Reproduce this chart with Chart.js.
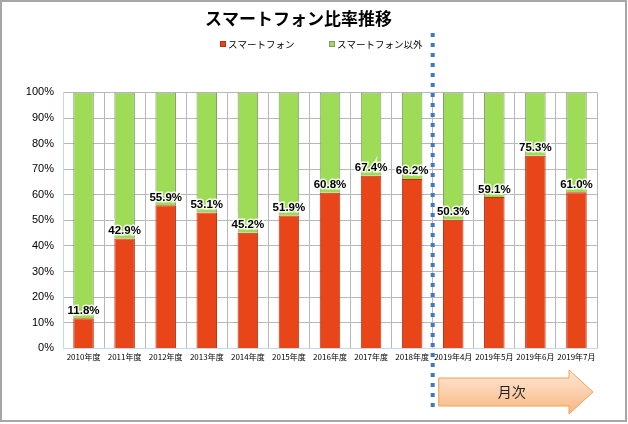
<!DOCTYPE html>
<html>
<head>
<meta charset="utf-8">
<script src="https://cdn.jsdelivr.net/npm/chart.js@4/dist/chart.umd.min.js"></script>
<style>
  html,body{margin:0;padding:0;background:#fff}
  #wrap{width:628px;height:424px}
</style>
</head>
<body>
<div id="wrap"><canvas id="chart" width="628" height="424"></canvas></div>
<script>
  const categories = ["2010年度","2011年度","2012年度","2013年度","2014年度","2015年度","2016年度","2017年度","2018年度","2019年4月","2019年5月","2019年6月","2019年7月"];
  const smartphone = [11.8, 42.9, 55.9, 53.1, 45.2, 51.9, 60.8, 67.4, 66.2, 50.3, 59.1, 75.3, 61.0];
  const others     = [88.2, 57.1, 44.1, 46.9, 54.8, 48.1, 39.2, 32.6, 33.8, 49.7, 40.9, 24.7, 39.0];
  const yTicks = [0,10,20,30,40,50,60,70,80,90,100];
  const splitAfter = 8; // index of last 年度 column
  const FONT = "'Liberation Sans', Arial, sans-serif";
  const JP = "'Noto Sans CJK JP', sans-serif";

  // legend, value labels, dashed divider, 月次 arrow, frame
  const decor = {
    id:"decor",
    afterDatasetsDraw(chart){
      const ctx = chart.ctx;
      const meta = chart.getDatasetMeta(0);
      ctx.save();
      ctx.font = "bold 11.5px " + FONT;
      ctx.textAlign = "center";
      ctx.textBaseline = "bottom";
      meta.data.forEach((bar,i)=>{
        const t = smartphone[i].toFixed(1) + "%";
        ctx.lineWidth = 3; ctx.strokeStyle = "rgba(255,255,255,0.85)";
        ctx.strokeText(t, bar.x, bar.y - 2);
        ctx.fillStyle = "#000";
        ctx.fillText(t, bar.x, bar.y - 2);
      });
      ctx.restore();
    },
    afterDraw(chart){
      const ctx = chart.ctx;
      const x = chart.scales.x;
      ctx.save();
      // legend
      const legX = [220, 329];
      ctx.font = "9.5px " + JP;
      ctx.textBaseline = "middle"; ctx.textAlign = "left";
      chart.data.datasets.forEach((ds,i)=>{
        ctx.fillStyle = ds.backgroundColor; ctx.strokeStyle = ds.borderColor; ctx.lineWidth = 1;
        ctx.fillRect(legX[i], 41, 6, 6); ctx.strokeRect(legX[i]+0.5, 41.5, 5, 5);
        ctx.fillStyle = "#000";
        ctx.fillText(ds.label, legX[i] + 8, 44);
      });
      // divider
      const xs = (x.getPixelForValue(splitAfter) + x.getPixelForValue(splitAfter+1))/2;
      ctx.strokeStyle = "#3f78c4";
      ctx.lineWidth = 4;
      ctx.setLineDash([4,6]);
      ctx.beginPath(); ctx.moveTo(xs, 33); ctx.lineTo(xs, 412); ctx.stroke();
      ctx.setLineDash([]);
      // arrow
      const ax0 = xs + 6, ax1 = chart.chartArea.right - 4, headX = ax1 - 24;
      const by0 = 378, by1 = 406, hy0 = 370, hy1 = 414;
      const g = ctx.createLinearGradient(0, hy0, 0, hy1);
      g.addColorStop(0, "#fde7d6"); g.addColorStop(0.5, "#fbd0ad"); g.addColorStop(1, "#f8b57e");
      ctx.beginPath();
      ctx.moveTo(ax0, by0); ctx.lineTo(headX, by0); ctx.lineTo(headX, hy0);
      ctx.lineTo(ax1, (hy0+hy1)/2); ctx.lineTo(headX, hy1); ctx.lineTo(headX, by1);
      ctx.lineTo(ax0, by1); ctx.closePath();
      ctx.fillStyle = g; ctx.fill();
      ctx.strokeStyle = "#f0a05a"; ctx.lineWidth = 1; ctx.stroke();
      ctx.fillStyle = "#222";
      ctx.font = "14px " + JP;
      ctx.textAlign = "center"; ctx.textBaseline = "middle";
      ctx.fillText("月次", (ax0 + headX)/2 + 8, (by0+by1)/2);
      // frame
      ctx.strokeStyle = "#a6a6a6"; ctx.lineWidth = 2;
      ctx.strokeRect(1, 1, 625, 420);
      ctx.restore();
    }
  };

  new Chart(document.getElementById("chart"), {
    type:"bar",
    data:{
      labels: categories,
      datasets:[
        { label:"スマートフォン", data:smartphone, backgroundColor:"#e84519", borderColor:"#b93010", borderWidth:1, barPercentage:0.5, categoryPercentage:1 },
        { label:"スマートフォン以外", data:others, backgroundColor:"#9edc58", borderColor:"#7f9a70", borderWidth:1, barPercentage:0.5, categoryPercentage:1 },
      ]
    },
    options:{
      responsive:false, animation:false,
      layout:{ padding:{ left:0, right:31, top:6, bottom:58 } },
      plugins:{
        title:{ display:true, text:"スマートフォン比率推移", color:"#000",
          font:{ family:JP, size:17, weight:"bold" }, padding:{ top:2, bottom:64 } },
        legend:{ display:false },
        tooltip:{ enabled:false }
      },
      scales:{
        x:{ stacked:true,
          grid:{ color:"#b8b8b8", offset:true, drawTicks:false },
          border:{ color:"#c8d8ec" },
          ticks:{ autoSkip:false, maxRotation:0, color:"#000", padding:4,
            font:{ family:JP, size:8 } } },
        y:{ stacked:true, min:0, max:100,
          afterBuildTicks: s => { s.ticks = yTicks.map(v=>({value:v})); },
          afterFit: s => { s.width = 63; },
          grid:{ color:"#b8b8b8", drawTicks:false },
          border:{ color:"#c8d8ec" },
          ticks:{ color:"#000", padding:9, callback:v=>v+"%", font:{ family:FONT, size:11 } } }
      }
    },
    plugins:[decor]
  });
</script>
</body>
</html>
